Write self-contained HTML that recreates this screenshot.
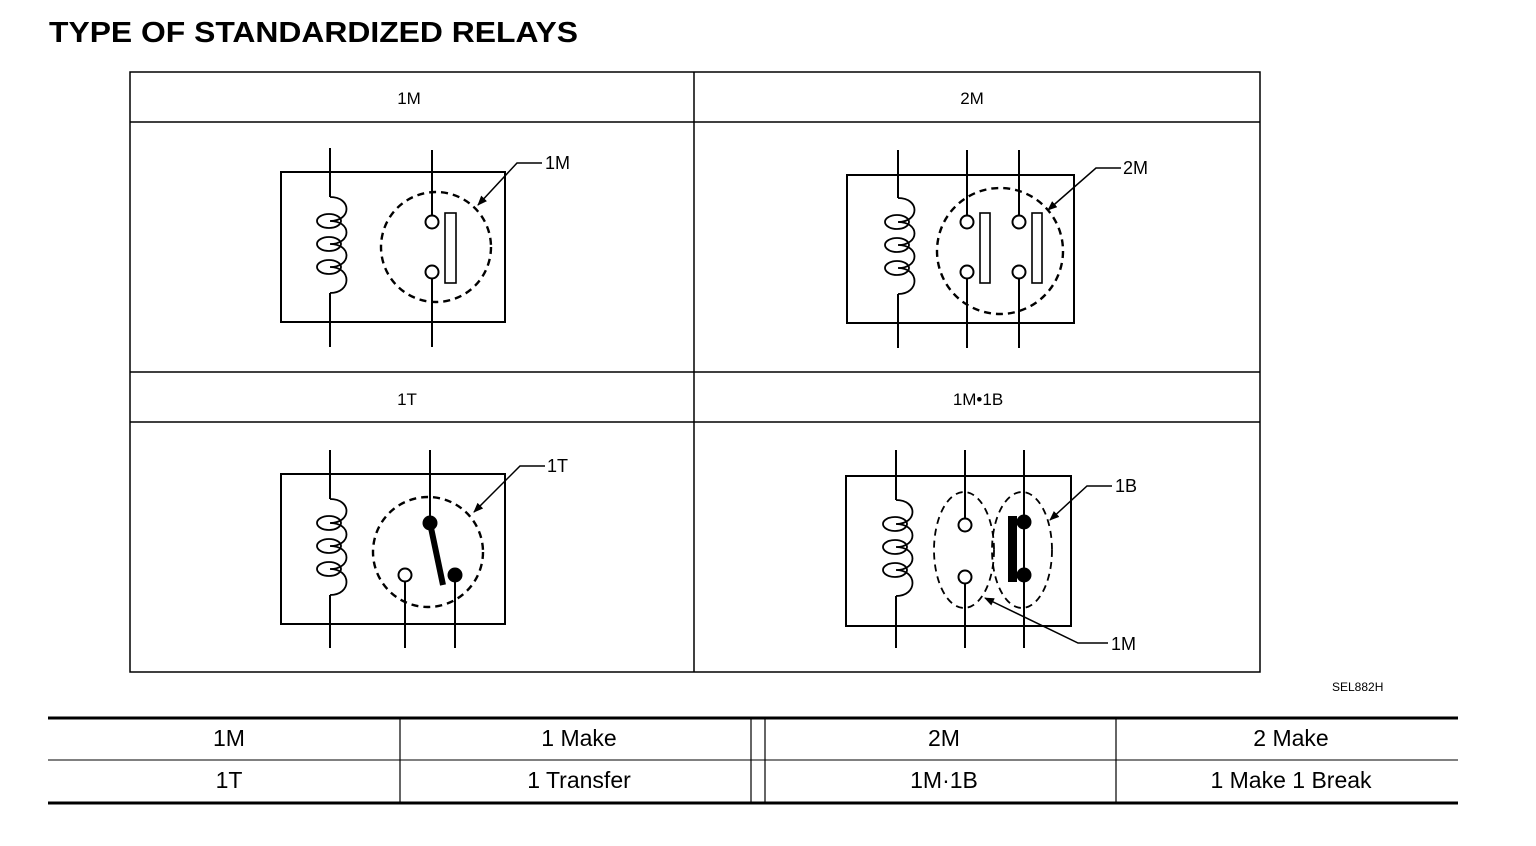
<!DOCTYPE html>
<html><head><meta charset="utf-8"><style>
html,body{margin:0;padding:0;background:#fff;}
svg{display:block;}
text{font-family:"Liberation Sans",Arial,sans-serif;fill:#000;}
</style></head><body>
<svg width="1536" height="846" viewBox="0 0 1536 846" xmlns="http://www.w3.org/2000/svg">
<defs>
<g id="coil" fill="none" stroke="#000" stroke-width="1.8">
<path d="M0,0 C22,0 22,24 0,24 C22,24 22,47 0,47 C22,47 22,70 0,70 C22,70 22,96 0,96"/>
<ellipse cx="-1" cy="24" rx="12" ry="7"/>
<ellipse cx="-1" cy="47" rx="12" ry="7"/>
<ellipse cx="-1" cy="70" rx="12" ry="7"/>
</g>
<marker id="ar" markerWidth="10" markerHeight="8" refX="9" refY="4" orient="auto" markerUnits="userSpaceOnUse"><path d="M0,0 L10,4 L0,8 Z" fill="#000"/></marker>
</defs>
<text x="49" y="42" font-size="29" font-weight="bold" textLength="529" lengthAdjust="spacingAndGlyphs">TYPE OF STANDARDIZED RELAYS</text>

<g stroke="#000" stroke-width="1.5" fill="none">
<rect x="130" y="72" width="1130" height="600"/>
<line x1="130" y1="122" x2="1260" y2="122"/>
<line x1="130" y1="372" x2="1260" y2="372"/>
<line x1="130" y1="422" x2="1260" y2="422"/>
<line x1="694" y1="72" x2="694" y2="672"/>
</g>
<g font-size="17" text-anchor="middle">
<text x="409" y="104">1M</text>
<text x="972" y="104">2M</text>
<text x="407" y="405">1T</text>
<text x="978" y="405">1M•1B</text>
</g>

<!-- 1M -->
<g stroke="#000" stroke-width="2" fill="none">
<rect x="281" y="172" width="224" height="150"/>
<line x1="330" y1="148" x2="330" y2="197"/><line x1="330" y1="293" x2="330" y2="347"/>
<line x1="432" y1="150" x2="432" y2="216"/><line x1="432" y1="279" x2="432" y2="347"/>
<circle cx="432" cy="222" r="6.5"/><circle cx="432" cy="272" r="6.5"/>
<rect x="445" y="213" width="11" height="70" stroke-width="1.6"/>
<circle cx="436" cy="247" r="55" stroke-dasharray="7,5" stroke-width="2.4"/>
<polyline points="542,163 517,163 478,205" stroke-width="1.5" marker-end="url(#ar)"/>
</g>
<use href="#coil" x="330" y="197"/>
<text x="545" y="169" font-size="18">1M</text>

<!-- 2M -->
<g stroke="#000" stroke-width="2" fill="none">
<rect x="847" y="175" width="227" height="148"/>
<line x1="898" y1="150" x2="898" y2="198"/><line x1="898" y1="294" x2="898" y2="348"/>
<line x1="967" y1="150" x2="967" y2="216"/><line x1="967" y1="279" x2="967" y2="348"/>
<line x1="1019" y1="150" x2="1019" y2="216"/><line x1="1019" y1="279" x2="1019" y2="348"/>
<circle cx="967" cy="222" r="6.5"/><circle cx="967" cy="272" r="6.5"/>
<circle cx="1019" cy="222" r="6.5"/><circle cx="1019" cy="272" r="6.5"/>
<rect x="980" y="213" width="10" height="70" stroke-width="1.6"/>
<rect x="1032" y="213" width="10" height="70" stroke-width="1.6"/>
<circle cx="1000" cy="251" r="63" stroke-dasharray="7,5" stroke-width="2.4"/>
<polyline points="1121,168 1096,168 1048,210" stroke-width="1.5" marker-end="url(#ar)"/>
</g>
<use href="#coil" x="898" y="198"/>
<text x="1123" y="174" font-size="18">2M</text>

<!-- 1T -->
<g stroke="#000" stroke-width="2" fill="none">
<rect x="281" y="474" width="224" height="150"/>
<line x1="330" y1="450" x2="330" y2="499"/><line x1="330" y1="595" x2="330" y2="648"/>
<line x1="430" y1="450" x2="430" y2="523"/>
<line x1="455" y1="575" x2="455" y2="648"/>
<line x1="405" y1="582" x2="405" y2="648"/>
<circle cx="405" cy="575" r="6.5"/>
<line x1="430" y1="523" x2="443" y2="585" stroke-width="6"/>
<circle cx="428" cy="552" r="55" stroke-dasharray="7,5" stroke-width="2.4"/>
<polyline points="545,466 520,466 474,512" stroke-width="1.5" marker-end="url(#ar)"/>
</g>
<circle cx="430" cy="523" r="7.5" fill="#000"/><circle cx="455" cy="575" r="7.5" fill="#000"/>
<use href="#coil" x="330" y="499"/>
<text x="547" y="472" font-size="18">1T</text>

<!-- 1M·1B -->
<g stroke="#000" stroke-width="2" fill="none">
<rect x="846" y="476" width="225" height="150"/>
<line x1="896" y1="450" x2="896" y2="500"/><line x1="896" y1="596" x2="896" y2="648"/>
<line x1="965" y1="450" x2="965" y2="519"/><line x1="965" y1="583" x2="965" y2="648"/>
<line x1="1024" y1="450" x2="1024" y2="648"/>
<circle cx="965" cy="525" r="6.5"/><circle cx="965" cy="577" r="6.5"/>
<ellipse cx="964" cy="550" rx="30" ry="58" stroke-dasharray="7,5" stroke-width="1.8"/>
<ellipse cx="1022" cy="550" rx="30" ry="58" stroke-dasharray="7,5" stroke-width="1.8"/>
<polyline points="1112,486 1087,486 1050,520" stroke-width="1.5" marker-end="url(#ar)"/>
<polyline points="1108,643 1078,643 985,598" stroke-width="1.5" marker-end="url(#ar)"/>
</g>
<rect x="1008" y="516" width="9" height="66" fill="#000"/>
<circle cx="1024" cy="522" r="7.5" fill="#000"/><circle cx="1024" cy="575" r="7.5" fill="#000"/>
<use href="#coil" x="896" y="500"/>
<text x="1115" y="492" font-size="18">1B</text>
<text x="1111" y="650" font-size="18">1M</text>

<text x="1332" y="691" font-size="12">SEL882H</text>

<!-- bottom table -->
<g stroke="#000" fill="none">
<line x1="48" y1="718" x2="1458" y2="718" stroke-width="3"/>
<line x1="48" y1="760" x2="1458" y2="760" stroke-width="1"/>
<line x1="48" y1="803" x2="1458" y2="803" stroke-width="3"/>
<line x1="400" y1="718" x2="400" y2="803" stroke-width="1.2"/>
<line x1="751" y1="718" x2="751" y2="803" stroke-width="1.2"/>
<line x1="765" y1="718" x2="765" y2="803" stroke-width="1.2"/>
<line x1="1116" y1="718" x2="1116" y2="803" stroke-width="1.2"/>
</g>
<g font-size="23" text-anchor="middle">
<text x="229" y="746">1M</text>
<text x="579" y="746">1 Make</text>
<text x="944" y="746">2M</text>
<text x="1291" y="746">2 Make</text>
<text x="229" y="788">1T</text>
<text x="579" y="788">1 Transfer</text>
<text x="944" y="788">1M·1B</text>
<text x="1291" y="788">1 Make 1 Break</text>
</g>
</svg>
</body></html>
